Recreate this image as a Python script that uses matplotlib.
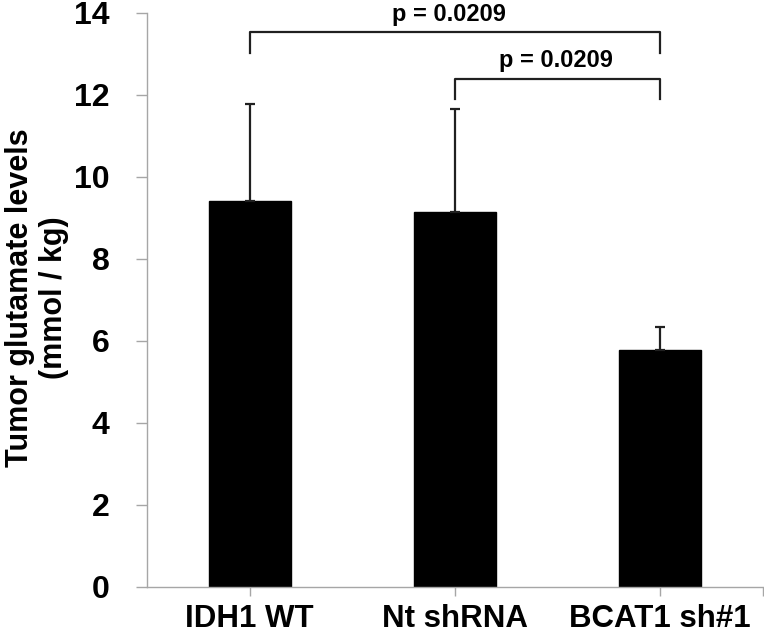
import matplotlib
matplotlib.use("Agg")
import matplotlib.pyplot as plt

groups = ["IDH1 WT", "Nt shRNA", "BCAT1 sh#1"]
means = [9.40, 9.15, 5.78]
err_up = [2.38, 2.51, 0.57]
p_labels = ["p = 0.0209", "p = 0.0209"]
y_ticks = [0, 2, 4, 6, 8, 10, 12, 14]

plt.rcParams['font.family'] = ['Liberation Sans', 'DejaVu Sans']
plt.rcParams['font.weight'] = 'bold'

fig = plt.figure(figsize=(7.64, 6.39), dpi=100)
ax = fig.add_axes([0.1924, 0.0814, 0.806, 0.8986])

x = list(range(len(groups)))
ax.bar(x, means, width=0.4, color='black', edgecolor='black', zorder=2)
ax.errorbar(x, means, yerr=[[0] * len(means), err_up], fmt='none',
            ecolor='#202020', elinewidth=1.6, capsize=3.5, capthick=1.6, zorder=3)

ax.set_xlim(-0.5, 2.5)
ax.set_ylim(0, 14)
ax.set_yticks(y_ticks)
ax.set_xticks(x + [2.5])
ax.set_xticklabels(groups + [""])

for side in ['top', 'right']:
    ax.spines[side].set_visible(False)
for side in ['left', 'bottom']:
    ax.spines[side].set_color('#a6a6a6')
    ax.spines[side].set_linewidth(1.0)

ax.tick_params(axis='y', colors='#a6a6a6', length=8, width=1.0, pad=19,
               labelcolor='black', labelsize=23)
ax.tick_params(axis='x', colors='#a6a6a6', length=6.5, width=1.0, pad=6,
               labelcolor='black', labelsize=22.5)
for lab in ax.get_xticklabels() + ax.get_yticklabels():
    lab.set_fontweight('bold')

# significance brackets
brackets = [(0.0, 2.0, 13.54, 13.02), (1.0, 2.0, 12.39, 11.90)]
text_pos = [(0.97, 13.81), (1.49, 12.68)]
for (x0, x1, ytop, yleg), (tx, ty), lbl in zip(brackets, text_pos, p_labels):
    ax.plot([x0, x0, x1, x1], [yleg, ytop, ytop, yleg], color='#202020',
            lw=1.6, clip_on=False, zorder=4)
    ax.text(tx, ty, lbl, ha='center', va='baseline', fontsize=17,
            fontweight='bold', clip_on=False)

fig.text(37 / 764, (639 - 298) / 639, "Tumor glutamate levels\n(mmol / kg)",
         rotation=90, ha='center', va='center', multialignment='center',
         fontsize=22, fontweight='bold', linespacing=1.2)

fig.savefig("out.png", dpi=100)
